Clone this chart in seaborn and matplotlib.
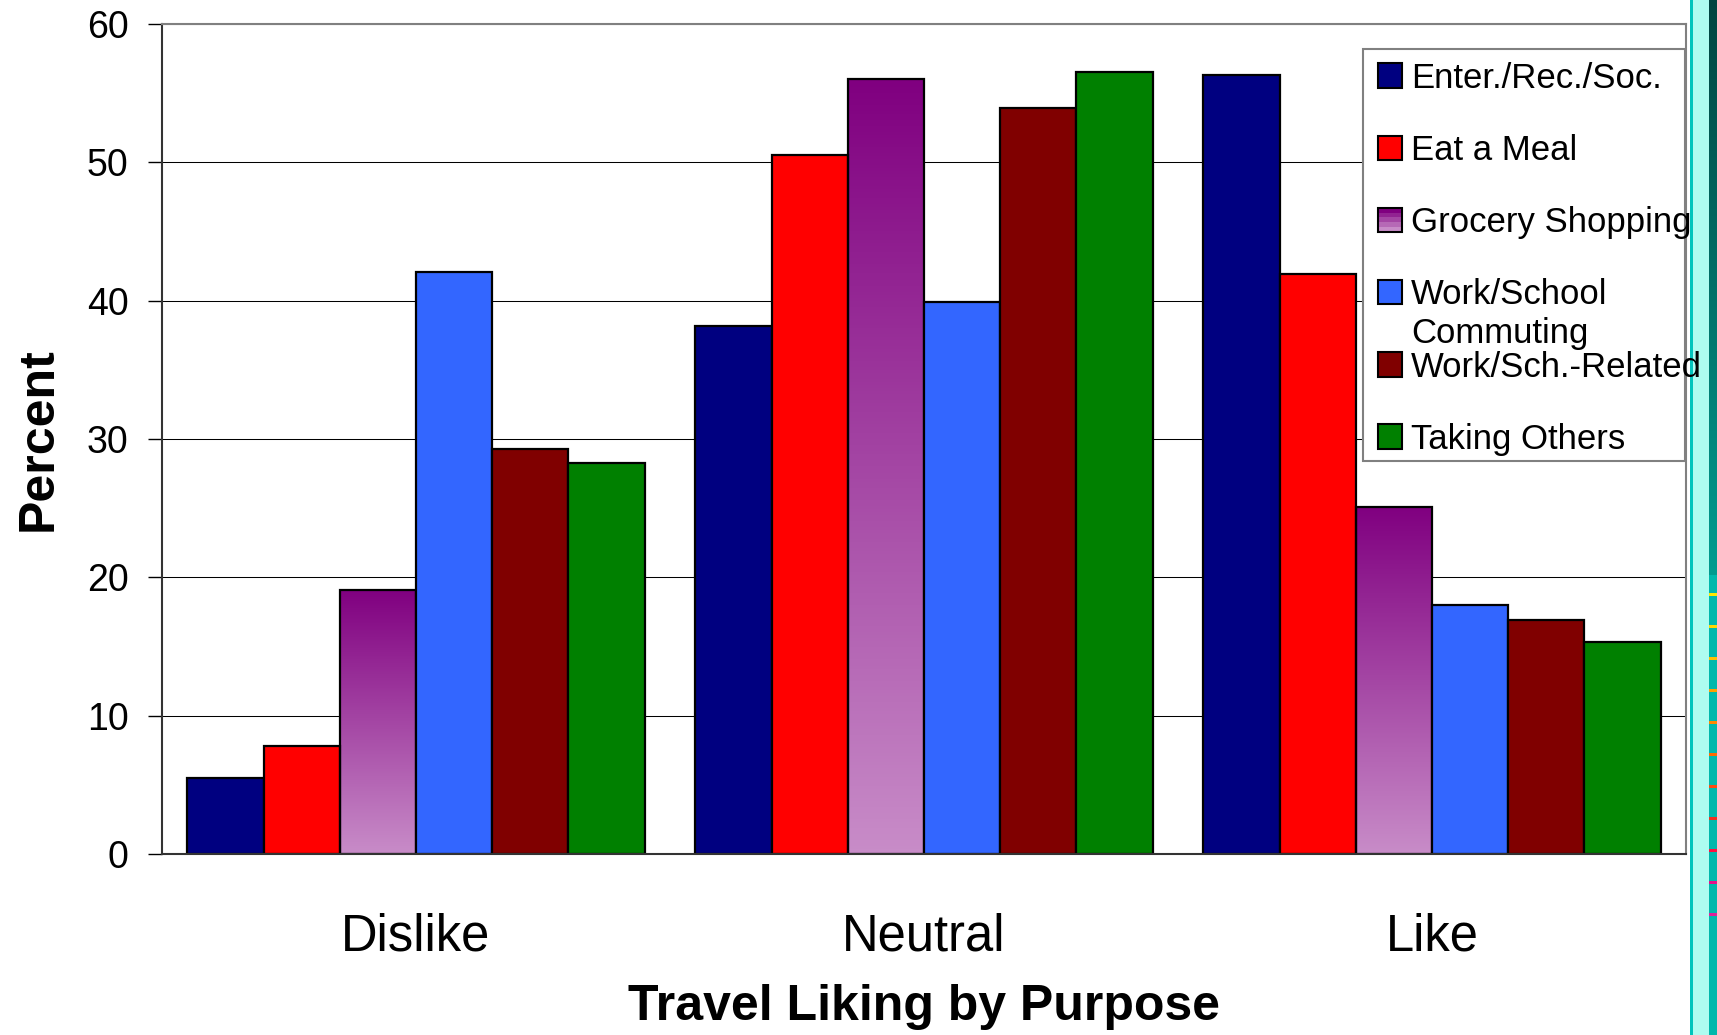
import numpy as np
import pandas as pd
import matplotlib
matplotlib.use("Agg")
import matplotlib.pyplot as plt
import seaborn as sns
from matplotlib.patches import Patch, Rectangle
from matplotlib.colors import LinearSegmentedColormap, to_rgb
from matplotlib.legend_handler import HandlerBase

# ---- data -------------------------------------------------------------
categories = ["Dislike", "Neutral", "Like"]
purposes = ["Enter./Rec./Soc.", "Eat a Meal", "Grocery Shopping",
            "Work/School Commuting", "Work/Sch.-Related", "Taking Others"]
enter_rec_soc = [5.5, 38.2, 56.3]
eat_a_meal = [7.8, 50.5, 41.9]
grocery_shopping = [19.1, 56.0, 25.1]
work_school_commuting = [42.1, 39.9, 18.0]
work_sch_related = [29.3, 53.9, 16.9]
taking_others = [28.3, 56.5, 15.3]
y_ticks = [0, 10, 20, 30, 40, 50, 60]

series = [enter_rec_soc, eat_a_meal, grocery_shopping,
          work_school_commuting, work_sch_related, taking_others]
colors = ["#000080", "#FF0000", "#A050A0", "#3366FF", "#800000", "#008000"]
grocery_cmap = LinearSegmentedColormap.from_list("grocery", ["#800080", "#C88CC8"])

df = pd.DataFrame({
    "liking": np.tile(categories, len(purposes)),
    "purpose": np.repeat(purposes, len(categories)),
    "percent": np.concatenate(series),
})

# ---- style ------------------------------------------------------------
sns.set_theme(style="white")
plt.rcParams["font.family"] = ["Liberation Sans", "DejaVu Sans"]
plt.rcParams["text.color"] = "black"
plt.rcParams["axes.labelcolor"] = "black"

W, H = 1717, 1035
fig = plt.figure(figsize=(W / 100, H / 100), dpi=100)
fig.patch.set_facecolor("white")
ax = fig.add_axes([162 / W, 1 - 854 / H, (1686 - 162) / W, (854 - 24) / H])

sns.barplot(data=df, x="liking", y="percent", hue="purpose",
            order=categories, hue_order=purposes,
            palette=dict(zip(purposes, colors)), saturation=1,
            width=0.9, edgecolor="black", linewidth=1.6,
            errorbar=None, legend=False, ax=ax)

# vertical gradient fill for the grocery bars
grad = np.linspace(0, 1, 256).reshape(-1, 1)
for bar in ax.containers[2]:
    x0, y0 = bar.get_xy()
    w, h = bar.get_width(), bar.get_height()
    im = ax.imshow(grad, extent=[x0, x0 + w, y0, y0 + h], origin="upper",
                   aspect="auto", cmap=grocery_cmap, zorder=bar.get_zorder() - 0.05,
                   interpolation="bilinear")
    im.set_clip_path(bar)
    bar.set_facecolor("none")

ax.set_xlim(-0.5, 2.5)
ax.set_ylim(0, 60)
ax.set_yticks(y_ticks)
ax.yaxis.grid(True, color="black", linewidth=0.75)
ax.xaxis.grid(False)
ax.set_axisbelow(True)

for side in ["left", "bottom"]:
    ax.spines[side].set_color("#333333")
    ax.spines[side].set_linewidth(1.5)
for side in ["top", "right"]:
    ax.spines[side].set_color("#808080")
    ax.spines[side].set_linewidth(1.5)

ax.tick_params(axis="y", left=True, length=10, width=1, color="black",
               pad=14, labelsize=27, labelcolor="black", direction="out")
ax.tick_params(axis="x", bottom=False, length=0, pad=42, labelsize=36.5,
               labelcolor="black")

ax.set_xlabel("Travel Liking by Purpose", fontsize=36, fontweight="bold",
              labelpad=16, color="black")
ax.set_ylabel("Percent", fontsize=36, fontweight="bold", labelpad=18,
              color="black")

# ---- legend -----------------------------------------------------------
class StripedHandler(HandlerBase):
    def __init__(self, cmap, n=5, **kw):
        super().__init__(**kw)
        self.cmap = cmap
        self.n = n

    def create_artists(self, legend, orig_handle, xdescent, ydescent,
                       width, height, fontsize, trans):
        x0, y0 = -xdescent, -ydescent
        arts = []
        for i in range(self.n):
            arts.append(Rectangle((x0, y0 + height * (1 - (i + 1) / self.n)),
                                  width, height / self.n,
                                  facecolor=self.cmap(i / (self.n - 1)),
                                  edgecolor="none", transform=trans))
        arts.append(Rectangle((x0, y0), width, height, facecolor="none",
                              edgecolor="black", linewidth=1.5, transform=trans))
        return arts


handles = [Patch(facecolor=c, edgecolor="black", linewidth=1.5) for c in colors]
labels = list(purposes)
labels[3] = "Work/School"

ax.add_patch(Rectangle((0.788, 0.4735), 0.2113, 0.4965, transform=ax.transAxes,
                       facecolor="white", edgecolor="#808080", linewidth=1.5,
                       zorder=4))
leg = ax.legend(handles, labels, loc="upper left",
                bbox_to_anchor=(0.798, 0.9547), borderaxespad=0, borderpad=0,
                frameon=False, fontsize=25, handlelength=0.7,
                handleheight=0.7, handletextpad=0.25, labelspacing=1.13,
                labelcolor="black",
                handler_map={handles[2]: StripedHandler(grocery_cmap)})
leg.set_zorder(5)
ax.annotate("Commuting", xy=(0, 0), xycoords=leg.get_texts()[3],
            xytext=(0, -23), textcoords="offset points", ha="left",
            va="baseline", fontsize=25, color="black", zorder=6,
            annotation_clip=False)

# ---- decorative band on the right edge --------------------------------
strip = np.zeros((H, W - 1690, 3))
strip[:, 0:3] = to_rgb("#00C4BC")
strip[:, 3:19] = to_rgb("#AEFCF0")
top = np.array(to_rgb("#004440"))
mid = np.array(to_rgb("#009C90"))
t = np.linspace(0, 1, 575).reshape(-1, 1)
strip[:575, 19:] = (top + (mid - top) * t)[:, None, :]
strip[575:, 19:] = to_rgb("#00B8AC")
tick_colors = ["#FFE800", "#FFD800", "#FFC000", "#FFA000", "#FF8800", "#FF6A00",
               "#FF4A10", "#F03020", "#FF1040", "#E8108A", "#E0209A"]
for k, c in enumerate(tick_colors):
    r = 593 + 32 * k
    strip[r:r + 3, 19:] = to_rgb(c)
fig.figimage(strip, xo=1690, yo=0, origin="upper", zorder=-1)

fig.savefig("out.png", dpi=100, facecolor="white")
